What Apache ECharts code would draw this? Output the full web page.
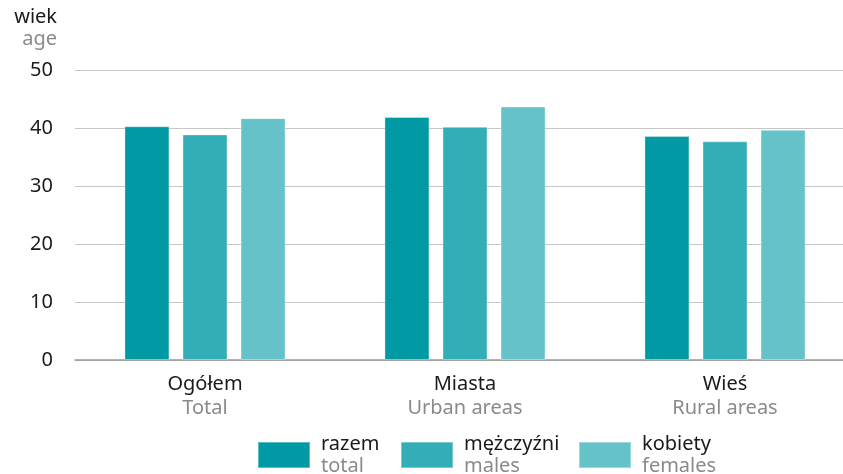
<!DOCTYPE html>
<html>
<head>
<meta charset="utf-8">
<script src="https://cdn.jsdelivr.net/npm/echarts@6/dist/echarts.min.js"></script>
<style>
  html, body { margin: 0; padding: 0; background: #fff; }
  #chart { width: 843px; height: 474px; }
</style>
</head>
<body>
<div id="chart"></div>
<script>
// dane
var categoriesPl = ['Ogółem', 'Miasta', 'Wieś'];
var categoriesEn = ['Total', 'Urban areas', 'Rural areas'];
var seriesPl = ['razem', 'mężczyźni', 'kobiety'];
var seriesEn = ['total', 'males', 'females'];
var razem = [40.3, 41.9, 38.6];
var mezczyzni = [38.9, 40.2, 37.7];
var kobiety = [41.7, 43.7, 39.7];
var yTicks = [0, 10, 20, 30, 40, 50];

var colors = ['#0099a4', '#33adb6', '#66c2c9'];
var font = 'Noto Sans';
var legendLeft = [257, 400, 578];

var myChart = echarts.init(document.getElementById('chart'));

var values = [razem, mezczyzni, kobiety];
var series = seriesPl.map(function (name, i) {
    return {
        name: name,
        type: 'bar',
        data: values[i],
        barWidth: 45,
        barGap: '29%',
        itemStyle: { color: colors[i], borderColor: 'rgba(255,255,255,0.35)', borderWidth: 1 }
    };
});

// osobna legenda dla kazdej serii, zeby ustawic pozycje
var legends = seriesPl.map(function (name, i) {
    return {
        top: 434,
        left: legendLeft[i],
        padding: 0,
        itemWidth: 52,
        itemHeight: 26,
        icon: 'rect',
        data: [name],
        formatter: function (n) {
            var k = seriesPl.indexOf(n);
            return '{a|' + n + '}\n{b|' + seriesEn[k] + '}';
        },
        textStyle: {
            padding: [0, 0, 0, 6],
            rich: {
                a: { fontSize: 20, color: '#1a1a1a', fontFamily: font, lineHeight: 22 },
                b: { fontSize: 20, color: '#8a8a8a', fontFamily: font, lineHeight: 22 }
            }
        }
    };
});

var option = {
    animation: false,
    textStyle: { fontFamily: font },
    grid: { left: 75, width: 780, top: 70, bottom: 114, containLabel: false, outerBoundsMode: 'none' },
    legend: legends,
    xAxis: {
        type: 'category',
        data: categoriesPl,
        axisTick: { show: false },
        axisLine: { lineStyle: { color: '#999', width: 1.5 } },
        axisLabel: {
            margin: 12,
            formatter: function (v, idx) {
                return '{a|' + v + '}\n{b|' + categoriesEn[idx] + '}';
            },
            rich: {
                a: { fontSize: 20, color: '#1a1a1a', fontFamily: font, lineHeight: 24 },
                b: { fontSize: 20, color: '#8a8a8a', fontFamily: font, lineHeight: 24 }
            }
        }
    },
    yAxis: {
        type: 'value',
        min: yTicks[0],
        max: yTicks[yTicks.length - 1],
        interval: 10,
        name: '{a|wiek}\n{b|age}',
        nameLocation: 'end',
        nameGap: 20,
        nameTextStyle: {
            align: 'right',
            padding: [0, 18, 0, 0],
            rich: {
                a: { fontSize: 20, color: '#1a1a1a', fontFamily: font, lineHeight: 22, align: 'right' },
                b: { fontSize: 20, color: '#8a8a8a', fontFamily: font, lineHeight: 22, align: 'right' }
            }
        },
        axisLine: { show: false },
        axisTick: { show: false },
        axisLabel: { margin: 22, fontSize: 20, color: '#1a1a1a' },
        splitLine: { lineStyle: { color: '#c6c6c6', width: 1 } }
    },
    series: series
};

myChart.setOption(option);
</script>
</body>
</html>
